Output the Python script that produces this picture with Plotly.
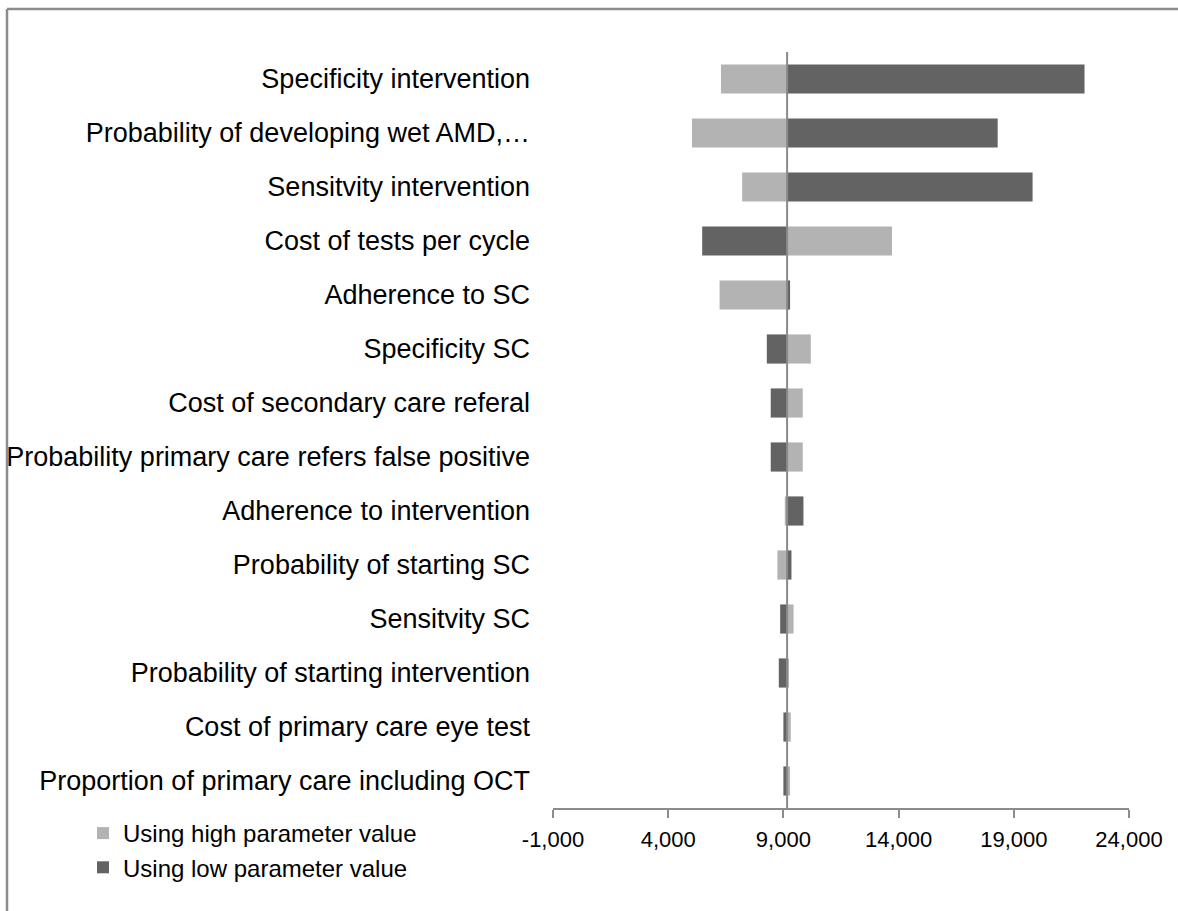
import plotly.graph_objects as go

# Tornado diagram: ICER range for each parameter around the base case
base_value = 9160

parameters = [
    "Specificity intervention",
    "Probability of developing wet AMD,…",
    "Sensitvity intervention",
    "Cost of tests per cycle",
    "Adherence to SC",
    "Specificity SC",
    "Cost of secondary care referal",
    "Probability primary care refers false positive",
    "Adherence to intervention",
    "Probability of starting SC",
    "Sensitvity SC",
    "Probability of starting intervention",
    "Cost of primary care eye test",
    "Proportion of primary care including OCT",
]

# ICER obtained with the high / low value of each parameter
high_values = [6290, 5030, 7210, 13714, 6230, 10190, 9840, 9840, 9060, 8740, 9440, 9200, 9320, 9290]
low_values = [22070, 18300, 19815, 5475, 9290, 8280, 8450, 8450, 9870, 9350, 8860, 8800, 9000, 9000]

tick_values = [-1000, 4000, 9000, 14000, 19000, 24000]
tick_labels = ["-1,000", "4,000", "9,000", "14,000", "19,000", "24,000"]

LIGHT = "#b3b3b3"
DARK = "#636363"
FONT = "Liberation Sans, Arial, sans-serif"

fig = go.Figure()
fig.add_trace(go.Bar(
    name="Using high parameter value",
    y=parameters,
    x=[v - base_value for v in high_values],
    base=base_value,
    orientation="h",
    marker=dict(color=LIGHT, line=dict(width=0)),
))
fig.add_trace(go.Bar(
    name="Using low parameter value",
    y=parameters,
    x=[v - base_value for v in low_values],
    base=base_value,
    orientation="h",
    marker=dict(color=DARK, line=dict(width=0)),
))

# Vertical line at the base-case value
fig.add_shape(type="line", xref="x", yref="paper", x0=base_value, x1=base_value,
              y0=0, y1=1, line=dict(color="#8a8a8a", width=2), layer="above")

# Outer chart frame (top and left edges)
L, R, T, B = 553, 1129, 52, 808
def px_x(p):
    return (p - L) / (R - L)
def px_y(p):
    return (B - p) / (B - T)
fig.add_shape(type="line", xref="paper", yref="paper", x0=px_x(7), x1=px_x(1200),
              y0=px_y(9), y1=px_y(9), line=dict(color="#8c8c8c", width=2.5))
fig.add_shape(type="line", xref="paper", yref="paper", x0=px_x(7), x1=px_x(7),
              y0=px_y(9), y1=px_y(930), line=dict(color="#8c8c8c", width=2.5))

fig.update_layout(
    width=1178,
    height=911,
    margin=dict(l=L, r=1178 - R, t=T, b=911 - B, autoexpand=False),
    paper_bgcolor="white",
    plot_bgcolor="white",
    barmode="overlay",
    bargap=0.46,
    font=dict(family=FONT, size=22, color="black"),
    showlegend=True,
    legend=dict(
        xref="container", yref="container",
        x=83 / 1178, y=1 - 811 / 911,
        xanchor="left", yanchor="top",
        font=dict(size=24, color="black"),
        itemwidth=30,
        tracegroupgap=0,
        bgcolor="rgba(0,0,0,0)",
    ),
    xaxis=dict(
        range=[-1000, 24000],
        tickvals=tick_values,
        ticktext=tick_labels,
        tickangle=0,
        automargin=False,
        showgrid=False,
        zeroline=False,
        showline=True,
        linecolor="#8c8c8c",
        linewidth=2,
        ticks="outside",
        ticklen=8,
        tickwidth=2,
        tickcolor="#8c8c8c",
        ticklabelstandoff=3,
        tickfont=dict(size=22, color="black"),
        fixedrange=True,
    ),
    yaxis=dict(
        autorange="reversed",
        automargin=False,
        showgrid=False,
        zeroline=False,
        showline=False,
        ticks="",
        ticklabelstandoff=22,
        tickfont=dict(size=27, color="black"),
        fixedrange=True,
    ),
)

fig.write_html("out.html")
